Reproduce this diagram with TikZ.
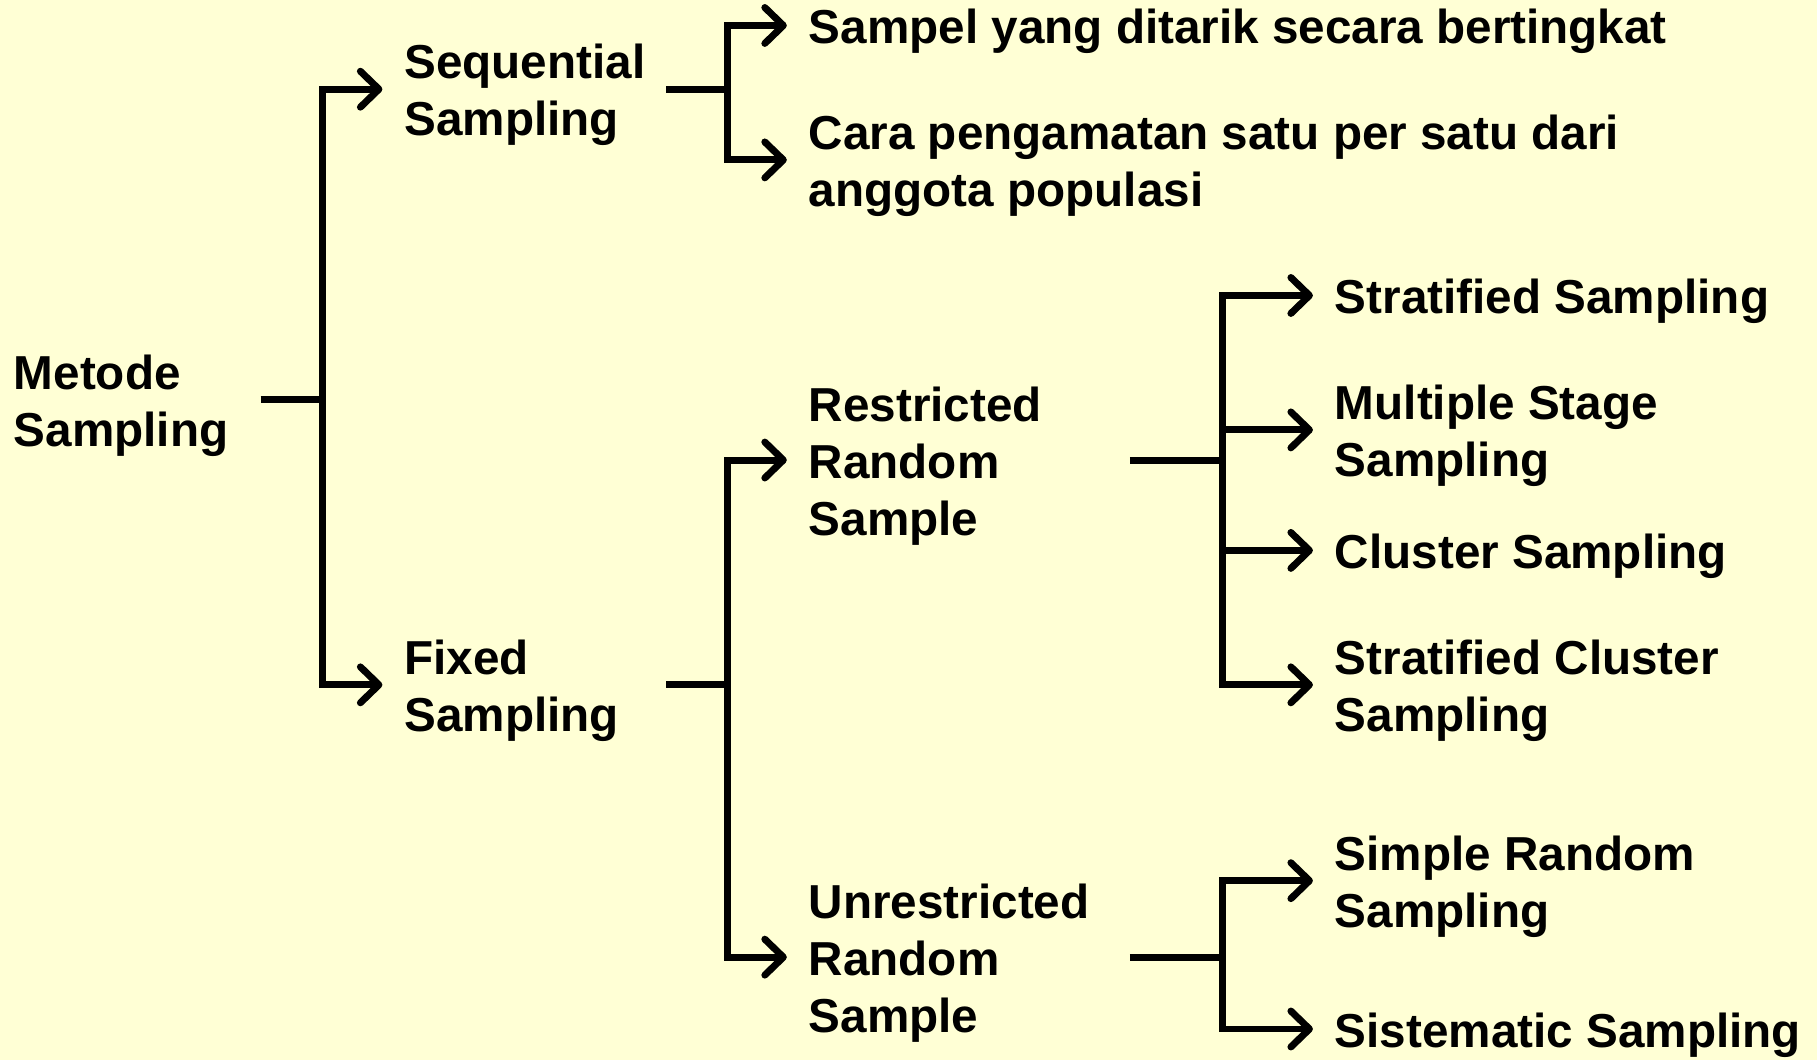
\documentclass[tikz,border=0pt]{standalone}
\usepackage{fontspec}
\setmainfont{Liberation Sans}
\usetikzlibrary{arrows.meta}

\definecolor{paper}{RGB}{255,255,213}
\newcommand{\topstrut}{\rule{0pt}{4mm}}

\begin{document}
\begin{tikzpicture}[x=0.1mm,y=-0.1mm]

    % styles
    \tikzstyle{lbl} = [anchor=west,inner sep=0pt,outer sep=0pt,align=left,
        font=\fontsize{11.7}{14}\selectfont\bfseries]
    \tikzstyle{stem} = [line width=0.6mm,draw=black]
    \tikzstyle{branch} = [stem,shorten >=1.9mm,
        -{Straight Barb[length=1.6mm,width=3.1mm,round]}]

    % background
    \fill[paper] (0,0) rectangle (1568,915);
    \useasboundingbox (0,0) rectangle (1568,915);

    % first level
    \node[lbl] (metode) at (12,345) {\topstrut Metode\\Sampling};
    \node[lbl] (seq)    at (349,77)  {\topstrut Sequential\\Sampling};
    \node[lbl] (fixed)  at (349,591) {\topstrut Fixed\\Sampling};

    % sequential
    \node[lbl] (sampel) at (698,22)  {\topstrut Sampel yang ditarik secara bertingkat};
    \node[lbl] (cara)   at (698,138) {\topstrut Cara pengamatan satu per satu dari\\anggota populasi};

    % fixed
    \node[lbl] (restr)   at (698,397) {\topstrut Restricted\\Random\\Sample};
    \node[lbl] (unrestr) at (698,826) {\topstrut Unrestricted\\Random\\Sample};

    % restricted
    \node[lbl] (strat)      at (1152,255) {\topstrut Stratified Sampling};
    \node[lbl] (multi)      at (1152,371) {\topstrut Multiple Stage\\Sampling};
    \node[lbl] (clust)      at (1152,475) {\topstrut Cluster Sampling};
    \node[lbl] (stratclust) at (1152,591) {\topstrut Stratified Cluster\\Sampling};

    % unrestricted
    \node[lbl] (simple) at (1152,760) {\topstrut Simple Random\\Sampling};
    \node[lbl] (sist)   at (1152,888) {\topstrut Sistematic Sampling};

    % stems and junctions
    \coordinate (m0) at (225,345);  \coordinate (jm) at (278,345);
    \coordinate (s0) at (575,77);   \coordinate (js) at (628,77);
    \coordinate (f0) at (575,591);  \coordinate (jf) at (628,591);
    \coordinate (r0) at (975,397);  \coordinate (jr) at (1055,397);
    \coordinate (u0) at (975,826);  \coordinate (ju) at (1055,826);

    \path[stem] (m0) -- (jm);
    \path[stem] (s0) -- (js);
    \path[stem] (f0) -- (jf);
    \path[stem] (r0) -- (jr);
    \path[stem] (u0) -- (ju);

    % arrows
    \path[branch] (jm) |- (seq.west);
    \path[branch] (jm) |- (fixed.west);
    \path[branch] (js) |- (sampel.west);
    \path[branch] (js) |- (cara.west);
    \path[branch] (jf) |- (restr.west);
    \path[branch] (jf) |- (unrestr.west);
    \foreach \n in {strat,multi,clust,stratclust} {
        \path[branch] (jr) |- (\n.west);
    }
    \path[branch] (ju) |- (simple.west);
    \path[branch] (ju) |- (sist.west);
\end{tikzpicture}
\end{document}
